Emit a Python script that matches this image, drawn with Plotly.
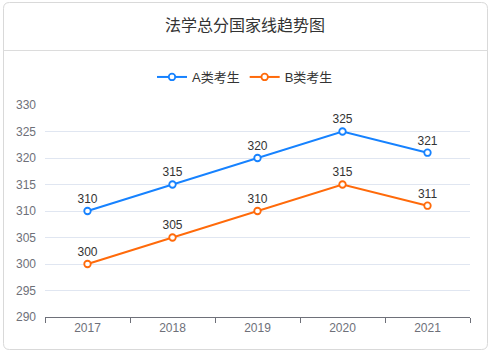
import plotly.graph_objects as go

years = ["2017", "2018", "2019", "2020", "2021"]
series_a = [310, 315, 320, 325, 321]
series_b = [300, 305, 310, 315, 311]
name_a = "A类考生"
name_b = "B类考生"
title = "法学总分国家线趋势图"
y_ticks = [290, 295, 300, 305, 310, 315, 320, 325, 330]

W, H = 491, 352
ML, MR, MT, MB = 45, 21, 105, 35
PW, PH = W - ML - MR, H - MT - MB

def px(x):
    return (x - ML) / PW

def py(y):
    return (H - MB - y) / PH

FONT = "Liberation Sans, Arial, Noto Sans CJK SC, sans-serif"
xs = list(range(len(years)))

fig = go.Figure()
for name, vals, col in [(name_a, series_a, "#1682ff"), (name_b, series_b, "#ff6a0a")]:
    fig.add_trace(go.Scatter(
        x=xs, y=vals, name=name, mode="lines+markers+text",
        text=[str(v) for v in vals], textposition="top center",
        textfont=dict(size=12, color="#333333", family=FONT),
        line=dict(color=col, width=2),
        marker=dict(symbol="circle", size=6.5, color="white", line=dict(color=col, width=1.8)),
        cliponaxis=False,
    ))

# card border and title separator
x0, x1, y0, y1, r = 3.5, 487.5, 2.5, 349.5, 6
path = (f"M {px(x0+r)},{py(y0)} L {px(x1-r)},{py(y0)} Q {px(x1)},{py(y0)} {px(x1)},{py(y0+r)} "
        f"L {px(x1)},{py(y1-r)} Q {px(x1)},{py(y1)} {px(x1-r)},{py(y1)} "
        f"L {px(x0+r)},{py(y1)} Q {px(x0)},{py(y1)} {px(x0)},{py(y1-r)} "
        f"L {px(x0)},{py(y0+r)} Q {px(x0)},{py(y0)} {px(x0+r)},{py(y0)} Z")
fig.add_shape(type="path", path=path, xref="paper", yref="paper",
              line=dict(color="#d9d9d9", width=1), layer="below")
fig.add_shape(type="line", xref="paper", yref="paper",
              x0=px(x0), x1=px(x1), y0=py(50.5), y1=py(50.5),
              line=dict(color="#dcdcdc", width=1))

fig.add_annotation(text=title, xref="paper", yref="paper", x=px(245), y=py(25),
                   showarrow=False, xanchor="center", yanchor="middle",
                   font=dict(size=16, color="#333333", family=FONT))

fig.update_layout(
    width=W, height=H,
    margin=dict(l=ML, r=MR, t=MT, b=MB),
    paper_bgcolor="white", plot_bgcolor="white",
    font=dict(family=FONT, color="#333333", size=12),
    showlegend=True,
    legend=dict(orientation="h", x=px(245), y=py(77), xanchor="center", yanchor="middle",
                font=dict(size=13, color="#333333", family=FONT),
                itemwidth=30, bgcolor="rgba(0,0,0,0)"),
    xaxis=dict(range=[-0.5, len(years) - 0.5], tickmode="array", tickvals=xs, ticktext=years,
               showgrid=False, zeroline=False, showline=True, linecolor="#6e7079", linewidth=1,
               ticks="", tickfont=dict(size=12, color="#6e7079", family=FONT),
               minor=dict(tickmode="array", tickvals=[i - 0.5 for i in range(len(years) + 1)],
                          ticks="outside", ticklen=5, tickcolor="#6e7079", showgrid=False),
               fixedrange=True),
    yaxis=dict(range=[290, 330], tickmode="array", tickvals=y_ticks,
               showgrid=True, gridcolor="#e0e6f1", gridwidth=1, zeroline=False,
               showline=False, ticks="", ticklabelstandoff=8,
               tickfont=dict(size=12, color="#6e7079", family=FONT), fixedrange=True),
)

fig.write_html("out.html")
